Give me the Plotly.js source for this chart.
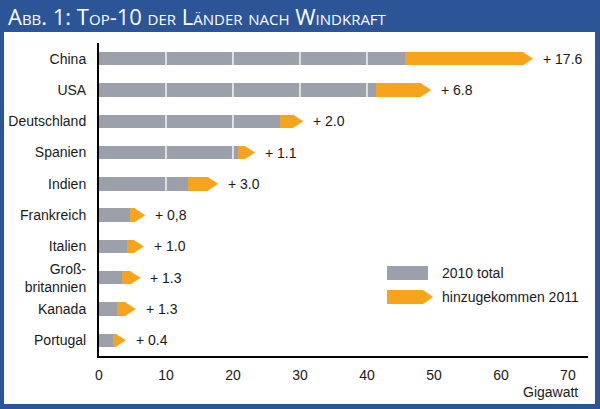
<!DOCTYPE html>
<html>
<head>
<meta charset="utf-8">
<script src="https://cdn.plot.ly/plotly-3.0.1.min.js"></script>
<style>html,body{margin:0;padding:0;background:#2b5597;}#chart{width:600px;height:409px;}</style>
</head>
<body>
<div id="chart"></div>
<script>
// Data
const countries = ["China", "USA", "Deutschland", "Spanien", "Indien", "Frankreich", "Italien", "Groß-<br>britannien", "Kanada", "Portugal"];
const total2010 = [45.7, 41.3, 27.0, 20.7, 13.3, 4.6, 4.2, 3.4, 2.7, 2.1];
const added2011 = [17.6, 6.8, 2.0, 1.1, 3.0, 0.8, 1.0, 1.3, 1.3, 0.4];
const addedLabels = ["+ 17.6", "+ 6.8", "+ 2.0", "+ 1.1", "+ 3.0", "+ 0,8", "+ 1.0", "+ 1.3", "+ 1.3", "+ 0.4"];
const xTickVals = [0, 10, 20, 30, 40, 50, 60, 70];
const gridVals = [10, 20, 30, 40];

const GRAY = "#9ba0aa";
const ORANGE = "#f6a41c";
const BLUE = "#2b5597";
const TXT = "#1a1a1a";
const FONT = "Liberation Sans, Arial, sans-serif";

// plot area in pixels: x 99..588, y 43..356
const PL = 99, PW = 489, PT = 43, PH = 313;
const px = v => (v - PL) / PW;
const py = v => (PT + PH - v) / PH;

const traces = [
  {type: "bar", orientation: "h", y: countries, x: total2010, marker: {color: GRAY}, name: "2010 total", hoverinfo: "skip"},
  {type: "bar", orientation: "h", y: countries, x: added2011, marker: {color: ORANGE}, name: "hinzugekommen 2011", hoverinfo: "skip"}
];

const shapes = [
  {type: "rect", xref: "paper", yref: "paper", x0: px(4), x1: px(595), y0: py(404), y1: py(32), fillcolor: "white", line: {width: 0}, layer: "below"}
];
// white grid lines, visible only across the grey bars
countries.forEach((c, i) => {
  gridVals.forEach(g => {
    if (g < total2010[i]) {
      shapes.push({type: "line", xref: "x", yref: "y", ysizemode: "pixel", yanchor: c,
        x0: g, x1: g, y0: -7, y1: 7, line: {color: "#f4f4f6", width: 1.5}, layer: "above"});
    }
  });
});
// arrow tips
countries.forEach((c, i) => {
  shapes.push({type: "path", xref: "x", yref: "y", xsizemode: "pixel", ysizemode: "pixel",
    xanchor: total2010[i] + added2011[i], yanchor: c,
    path: "M-0.5,-6.8 L10,0 L-0.5,6.8 Z", fillcolor: ORANGE, line: {width: 0}, layer: "above"});
});
// legend swatches
shapes.push({type: "path", xref: "paper", yref: "paper", xsizemode: "pixel", ysizemode: "pixel",
  xanchor: px(387), yanchor: py(273), path: "M0,-7 H41 V7 H0 Z", fillcolor: GRAY, line: {width: 0}, layer: "above"});
shapes.push({type: "path", xref: "paper", yref: "paper", xsizemode: "pixel", ysizemode: "pixel",
  xanchor: px(387), yanchor: py(297), path: "M0,-7 H36 L46,0 L36,7 H0 Z", fillcolor: ORANGE, line: {width: 0}, layer: "above"});

const annotations = countries.map((c, i) => ({
  x: total2010[i] + added2011[i], y: c, xref: "x", yref: "y", text: addedLabels[i],
  showarrow: false, xanchor: "left", yanchor: "middle", xshift: 18, font: {family: FONT, size: 14, color: TXT}
}));
annotations.push({xref: "paper", yref: "paper", x: px(440), y: py(273), text: "2010 total", showarrow: false, xanchor: "left", yanchor: "middle", font: {family: FONT, size: 14, color: TXT}});
annotations.push({xref: "paper", yref: "paper", x: px(440), y: py(297), text: "hinzugekommen 2011", showarrow: false, xanchor: "left", yanchor: "middle", font: {family: FONT, size: 14, color: TXT}});
annotations.push({xref: "paper", yref: "paper", x: px(580), y: py(392), text: "Gigawatt", showarrow: false, xanchor: "right", yanchor: "middle", font: {family: FONT, size: 14, color: TXT}});

const layout = {
  width: 600, height: 409,
  margin: {l: PL, r: 600 - PL - PW, t: PT, b: 409 - PT - PH, pad: 0},
  paper_bgcolor: BLUE, plot_bgcolor: "rgba(0,0,0,0)",
  showlegend: false, barmode: "stack", bargap: 0.57,
  title: {text: "Abb. 1: Top-10 der Länder nach Windkraft", xref: "container", yref: "container",
    x: 8 / 600, xanchor: "left", y: 1 - 17 / 409, yanchor: "middle",
    font: {family: "Open Sans, sans-serif", size: 22, color: "white", variant: "small-caps"}},
  xaxis: {range: [0, 73], tickvals: xTickVals, ticktext: xTickVals.map(String), showgrid: false, zeroline: false,
    showline: true, linecolor: "black", linewidth: 1.5, ticks: "", ticklabelstandoff: 6,
    tickfont: {family: FONT, size: 14, color: TXT}, layer: "above traces", fixedrange: true},
  yaxis: {type: "category", autorange: "reversed", showgrid: false, zeroline: false, showline: true,
    linecolor: "black", linewidth: 2, ticks: "", ticklabelstandoff: 8,
    tickfont: {family: FONT, size: 14, color: TXT}, fixedrange: true},
  shapes: shapes, annotations: annotations, hovermode: false
};

Plotly.newPlot("chart", traces, layout, {displayModeBar: false, staticPlot: true});
</script>
</body>
</html>
